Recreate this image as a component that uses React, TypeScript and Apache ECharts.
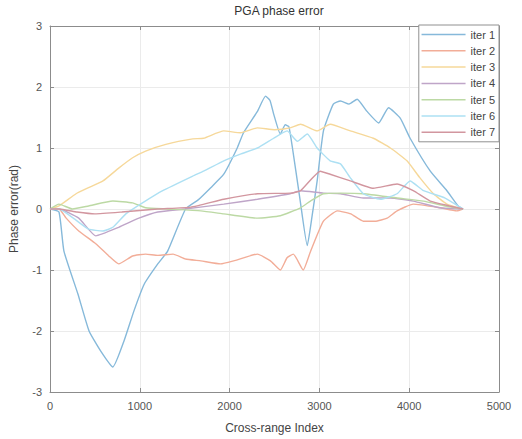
import React, { useEffect, useRef } from "react";
import * as echarts from "echarts";

const seriesNames = ["iter 1", "iter 2", "iter 3", "iter 4", "iter 5", "iter 6", "iter 7"];
const seriesColors = ["#86b9da", "#f2ad98", "#f6d89a", "#bfa5c8", "#bcd9a4", "#ade0f3", "#d2969f"];

const iter1X = [0, 100, 155, 310, 435, 565, 700, 825, 935, 1050, 1200, 1310, 1510, 1650, 1790, 1935, 2085, 2155, 2310, 2400, 2450, 2490, 2565, 2620, 2660, 2700, 2780, 2865, 2920, 2975, 3045, 3155, 3235, 3330, 3420, 3530, 3660, 3770, 3900, 4010, 4235, 4420, 4545, 4600];
const iter1Y = [0, -0.05, -0.69, -1.39, -2.0, -2.33, -2.59, -2.16, -1.67, -1.23, -0.9, -0.69, 0.0, 0.15, 0.35, 0.57, 1.0, 1.25, 1.6, 1.85, 1.78, 1.56, 1.23, 1.38, 1.35, 1.0, 0.2, -0.6, -0.1, 0.46, 1.28, 1.72, 1.77, 1.72, 1.8, 1.6, 1.41, 1.66, 1.49, 1.16, 0.62, 0.3, 0.05, 0];

const iter2X = [0, 100, 180, 320, 510, 655, 765, 920, 1065, 1200, 1370, 1510, 1680, 1900, 2045, 2310, 2455, 2565, 2640, 2710, 2820, 2900, 3045, 3200, 3350, 3490, 3620, 3755, 3865, 4045, 4345, 4530, 4600];
const iter2Y = [0, 0, -0.15, -0.36, -0.57, -0.77, -0.9, -0.77, -0.74, -0.76, -0.74, -0.82, -0.85, -0.9, -0.85, -0.74, -0.85, -1.0, -0.8, -0.74, -1.0, -0.7, -0.2, -0.03, -0.08, -0.2, -0.2, -0.15, -0.03, 0.08, 0.02, -0.03, 0];

const iter3X = [0, 100, 290, 430, 590, 765, 920, 1065, 1290, 1590, 1710, 1935, 2120, 2310, 2500, 2675, 2790, 2975, 3120, 3345, 3600, 3790, 3975, 4120, 4270, 4420, 4600];
const iter3Y = [0, 0.05, 0.25, 0.35, 0.46, 0.67, 0.84, 0.95, 1.06, 1.15, 1.16, 1.28, 1.25, 1.33, 1.3, 1.33, 1.39, 1.28, 1.39, 1.28, 1.16, 1.0, 0.79, 0.51, 0.25, 0.08, 0];

const iter4X = [0, 100, 320, 510, 765, 990, 1200, 1500, 1935, 2310, 2675, 2790, 3045, 3235, 3490, 3790, 4045, 4345, 4600];
const iter4Y = [0, 0, -0.15, -0.44, -0.3, -0.15, -0.05, 0.0, 0.08, 0.16, 0.25, 0.3, 0.26, 0.25, 0.18, 0.18, 0.13, 0.02, 0];

const iter5X = [0, 100, 250, 430, 700, 920, 1065, 1300, 1680, 1935, 2310, 2565, 2790, 2900, 3045, 3235, 3490, 3865, 4160, 4400, 4600];
const iter5Y = [0, 0.08, 0.0, 0.05, 0.13, 0.1, 0.02, 0.0, -0.03, -0.08, -0.15, -0.11, 0.02, 0.13, 0.25, 0.26, 0.25, 0.18, 0.13, 0.05, 0];

const iter6X = [0, 100, 260, 430, 590, 700, 845, 1030, 1255, 1590, 1710, 1935, 2120, 2310, 2490, 2640, 2755, 2865, 2975, 3120, 3235, 3345, 3490, 3680, 3865, 4010, 4160, 4400, 4600];
const iter6Y = [0, 0, -0.15, -0.33, -0.36, -0.3, -0.08, 0.1, 0.3, 0.54, 0.62, 0.79, 0.9, 1.0, 1.16, 1.28, 1.11, 1.23, 1.0, 0.79, 0.74, 0.51, 0.25, 0.16, 0.25, 0.46, 0.3, 0.18, 0];

const iter7X = [0, 100, 300, 500, 800, 1200, 1567, 1935, 2310, 2675, 2790, 3010, 3120, 3345, 3600, 3865, 4045, 4235, 4450, 4600];
const iter7Y = [0, 0, -0.05, -0.08, -0.05, 0.0, 0.03, 0.16, 0.25, 0.26, 0.3, 0.62, 0.57, 0.46, 0.34, 0.41, 0.3, 0.13, 0.05, 0];

const allX = [iter1X, iter2X, iter3X, iter4X, iter5X, iter6X, iter7X];
const allY = [iter1Y, iter2Y, iter3Y, iter4Y, iter5Y, iter6Y, iter7Y];

const FONT = "Liberation Sans";
const AXIS_COLOR = "#8c8c8c";
const LABEL_COLOR = "#555555";

export default function App() {
  const ref = useRef<HTMLDivElement>(null);
  useEffect(() => {
    if (!ref.current) return;
    const chart = echarts.init(ref.current, undefined, { renderer: "svg" });
    const axisCommon = {
      axisLine: { show: true, onZero: false, lineStyle: { color: AXIS_COLOR, width: 1 } },
      axisTick: { show: true, inside: true, length: 4, lineStyle: { color: AXIS_COLOR } },
    };
    chart.setOption({
      animation: false,
      backgroundColor: "#ffffff",
      title: {
        text: "PGA phase error",
        left: 274,
        textAlign: "center",
        top: 0,
        textStyle: { fontFamily: FONT, fontSize: 12, fontWeight: "normal", color: "#333333" },
      },
      legend: {
        orient: "vertical",
        right: 23,
        top: 25,
        data: seriesNames,
        itemWidth: 44,
        itemHeight: 12,
        itemGap: 5.3,
        padding: [4, 4, 4, 2],
        borderColor: "#909090",
        borderWidth: 1,
        borderRadius: 0,
        backgroundColor: "#ffffff",
        itemStyle: { opacity: 0 },
        lineStyle: { width: 1.5 },
        textStyle: { fontFamily: FONT, fontSize: 11, color: "#444444" },
      },
      grid: { left: 49, right: 23, top: 26, bottom: 47, containLabel: false },
      xAxis: [
        {
          type: "value",
          min: 0,
          max: 5000,
          interval: 1000,
          name: "Cross-range Index",
          nameLocation: "middle",
          nameGap: 30,
          nameTextStyle: { fontFamily: FONT, fontSize: 12, color: "#444444" },
          axisLabel: { fontFamily: FONT, fontSize: 11, color: LABEL_COLOR, margin: 8, formatter: (v: number) => String(v) },
          splitLine: { show: true, lineStyle: { color: "#ebebeb", width: 1 } },
          ...axisCommon,
        },
        {
          type: "value",
          position: "top",
          min: 0,
          max: 5000,
          interval: 1000,
          axisLabel: { show: false },
          splitLine: { show: false },
          ...axisCommon,
        },
      ],
      yAxis: [
        {
          type: "value",
          min: -3,
          max: 3,
          interval: 1,
          name: "Phase error(rad)",
          nameLocation: "middle",
          nameGap: 30,
          nameTextStyle: { fontFamily: FONT, fontSize: 12, color: "#444444" },
          axisLabel: { fontFamily: FONT, fontSize: 11, color: LABEL_COLOR, margin: 8 },
          splitLine: { show: true, lineStyle: { color: "#ebebeb", width: 1 } },
          ...axisCommon,
        },
        {
          type: "value",
          position: "right",
          min: -3,
          max: 3,
          interval: 1,
          axisLabel: { show: false },
          splitLine: { show: false },
          ...axisCommon,
        },
      ],
      series: seriesNames.map((name, i) => ({
        name,
        type: "line",
        xAxisIndex: 0,
        yAxisIndex: 0,
        symbol: "none",
        smooth: 0.15,
        color: seriesColors[i],
        lineStyle: { width: 1.4, color: seriesColors[i] },
        data: allX[i].map((x, j) => [x, allY[i][j]]),
      })),
    });
    return () => chart.dispose();
  }, []);
  return <div ref={ref} style={{ position: "fixed", left: 0, top: 0, width: 522, height: 439 }} />;
}
